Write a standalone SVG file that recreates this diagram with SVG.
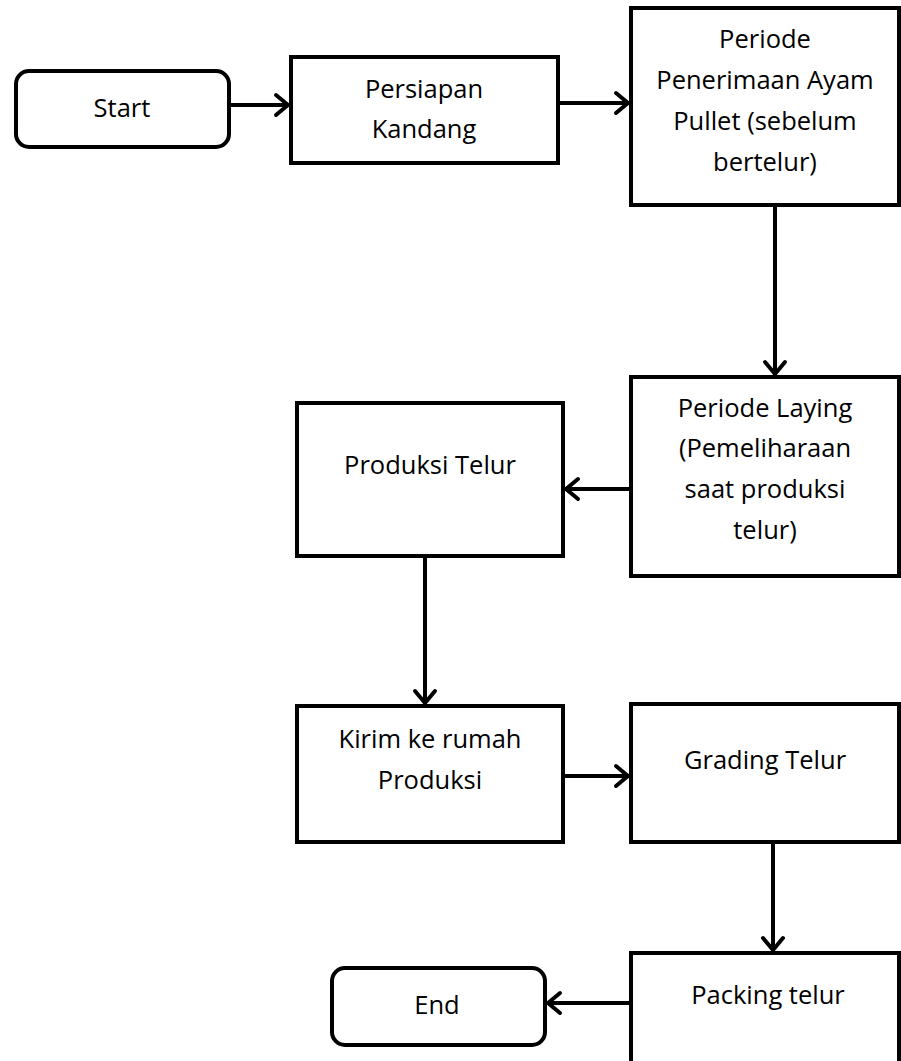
<svg xmlns="http://www.w3.org/2000/svg" width="901" height="1061" viewBox="0 0 901 1061">
<style>
.box{fill:#fff;stroke:#000;stroke-width:4}
.t{font-family:"Open Sans","Liberation Sans",sans-serif;font-size:25.5px;fill:#000;text-anchor:middle}
.c{stroke:#000;stroke-width:4;fill:none}
</style>
<defs>
<marker id="ah" markerUnits="userSpaceOnUse" markerWidth="30" markerHeight="30" viewBox="-20 -15 30 30" refX="0" refY="0" orient="auto">
<path d="M-13,-10 L-1,0 L-13,10" fill="none" stroke="#000" stroke-width="4" stroke-linecap="round" stroke-linejoin="round"/>
</marker>
</defs>
<rect width="901" height="1061" fill="#fff"/>
<g id="start"><rect class="box" x="16" y="71" width="213" height="76" rx="13"/><text class="t" x="122" y="117">Start</text></g>
<g id="persiapan"><rect class="box" x="291" y="57" width="267" height="106"/><text class="t" x="424" y="98">Persiapan</text><text class="t" x="424" y="138">Kandang</text></g>
<g id="penerimaan"><rect class="box" x="631" y="8" width="268" height="197"/><text class="t" x="765" y="48">Periode</text><text class="t" x="765" y="89">Penerimaan Ayam</text><text class="t" x="765" y="130">Pullet (sebelum</text><text class="t" x="765" y="171">bertelur)</text></g>
<g id="laying"><rect class="box" x="631" y="377" width="268" height="199"/><text class="t" x="765" y="417">Periode Laying</text><text class="t" x="765" y="457">(Pemeliharaan</text><text class="t" x="765" y="498">saat produksi</text><text class="t" x="765" y="539">telur)</text></g>
<g id="produksi"><rect class="box" x="297" y="403" width="266" height="153"/><text class="t" x="430" y="474">Produksi Telur</text></g>
<g id="kirim"><rect class="box" x="297" y="706" width="266" height="136"/><text class="t" x="430" y="748">Kirim ke rumah</text><text class="t" x="430" y="789">Produksi</text></g>
<g id="grading"><rect class="box" x="631" y="704" width="268" height="138"/><text class="t" x="765" y="769">Grading Telur</text></g>
<g id="packing"><rect class="box" x="631" y="953" width="268" height="120"/><text class="t" x="768" y="1004">Packing telur</text></g>
<g id="end"><rect class="box" x="332" y="968" width="213" height="77" rx="13"/><text class="t" x="437" y="1014">End</text></g>
<g id="connectors">
<line class="c" x1="229" y1="105" x2="289" y2="105" marker-end="url(#ah)"/>
<line class="c" x1="558" y1="103" x2="629" y2="103" marker-end="url(#ah)"/>
<line class="c" x1="775" y1="205" x2="775" y2="375" marker-end="url(#ah)"/>
<line class="c" x1="631" y1="489" x2="565" y2="489" marker-end="url(#ah)"/>
<line class="c" x1="425" y1="556" x2="425" y2="704" marker-end="url(#ah)"/>
<line class="c" x1="563" y1="776" x2="629" y2="776" marker-end="url(#ah)"/>
<line class="c" x1="773" y1="842" x2="773" y2="951" marker-end="url(#ah)"/>
<line class="c" x1="631" y1="1003" x2="547" y2="1003" marker-end="url(#ah)"/>
</g>
</svg>
